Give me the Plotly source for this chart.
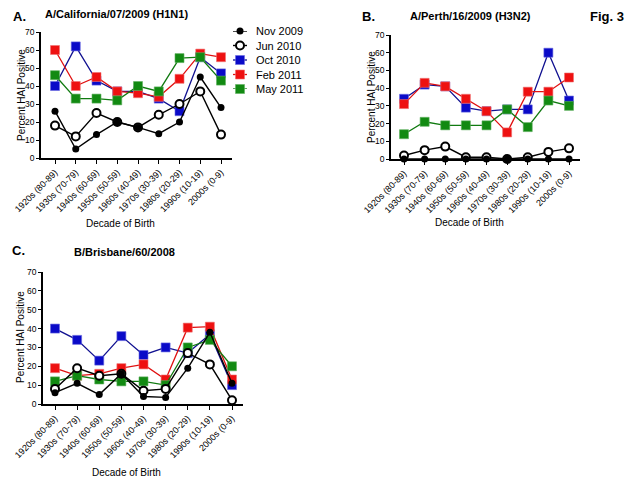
import plotly.graph_objects as go

W, H = 640, 480
OFF = 8  # page body margin offset in the browser

categories = ["1920s (80-89)", "1930s (70-79)", "1940s (60-69)", "1950s (50-59)",
              "1960s (40-49)", "1970s (30-39)", "1980s (20-29)", "1990s (10-19)", "2000s (0-9)"]
series_names = ["Nov 2009", "Jun 2010", "Oct 2010", "Feb 2011", "May 2011"]

# Panel A: A/California/07/2009 (H1N1)
a_nov2009 = [26, 5, 13, 20, 17, 13.5, 20, 45, 28]
a_jun2010 = [18, 12, 25, 20, 17, 24, 30, 37, 13]
a_oct2010 = [40, 62, 43, 37, 37, 33, 26, 56, 47]
a_feb2011 = [60, 40, 45, 37, 36, 34, 44, 58, 56]
a_may2011 = [46, 33, 33, 32, 40, 37, 55.5, 56, 43]

# Panel B: A/Perth/16/2009 (H3N2)
b_nov2009 = [0, 0, 0, 0, 0, 0, 0, 0, 0]
b_jun2010 = [2, 5, 7, 1, 1, 0, 1, 4, 6]
b_oct2010 = [34, 42, 41, 29, 27, 28, 28, 60, 33]
b_feb2011 = [31, 43, 41, 34, 27, 15, 38, 38, 46]
b_may2011 = [14, 21, 19, 19, 19, 28, 18, 33, 30]

# Panel C: B/Brisbane/60/2008
c_nov2009 = [6, 11, 5, 16, 4, 3.5, 19, 38, 11]
c_jun2010 = [8, 19, 15, 16, 7, 8, 27, 21, 2]
c_oct2010 = [40, 34, 23, 36, 26, 30, 27, 37, 10]
c_feb2011 = [19, 15, 16, 19, 21, 13, 40.5, 41, 13]
c_may2011 = [12, 15, 13, 12, 12, 10, 30, 34, 20]

y_ticks = [0, 10, 20, 30, 40, 50, 60, 70]

FONT = "Liberation Sans, Arial, sans-serif"
BLUE, RED, GREEN = "#0a0ac8", "#ee1111", "#128a12"

styles = {
    "Nov 2009": dict(line=dict(color="black", width=1.4),
                     marker=dict(symbol="circle", size=7, color="black")),
    "Jun 2010": dict(line=dict(color="black", width=1.4),
                     marker=dict(symbol="circle", size=8, color="white",
                                 line=dict(color="black", width=2))),
    "Oct 2010": dict(line=dict(color="#101090", width=1.3),
                     marker=dict(symbol="square", size=9, color=BLUE,
                                 line=dict(color="#6a6ae0", width=0.6))),
    "Feb 2011": dict(line=dict(color="#e01010", width=1.3),
                     marker=dict(symbol="square", size=9, color=RED,
                                 line=dict(color="#f07070", width=0.6))),
    "May 2011": dict(line=dict(color="#107a10", width=1.3),
                     marker=dict(symbol="square", size=9, color=GREEN,
                                 line=dict(color="#60b060", width=0.6))),
}

panels = [
    ("x", "y", [a_nov2009, a_jun2010, a_oct2010, a_feb2011, a_may2011]),
    ("x2", "y2", [b_nov2009, b_jun2010, b_oct2010, b_feb2011, b_may2011]),
    ("x3", "y3", [c_nov2009, c_jun2010, c_oct2010, c_feb2011, c_may2011]),
]

fig = go.Figure()
for xa, ya, data in panels:
    order = [2, 3, 4, 1, 0]
    for i in order:
        name = series_names[i]
        fig.add_trace(go.Scatter(
            x=list(range(len(categories))), y=data[i], mode="lines+markers",
            name=name, xaxis=xa, yaxis=ya, showlegend=False,
            cliponaxis=False, **styles[name]))

# manual legend (keys on a hidden axis pair so rows can be tightly spaced)
for k, name in enumerate(series_names):
    fig.add_trace(go.Scatter(x=[0, 1], y=[k, k], mode="lines", xaxis="x4", yaxis="y4",
                             showlegend=False, hoverinfo="skip", line=styles[name]["line"]))
    fig.add_trace(go.Scatter(x=[0.5], y=[k], mode="markers", xaxis="x4", yaxis="y4",
                             showlegend=False, hoverinfo="skip", marker=styles[name]["marker"],
                             cliponaxis=False))


def px_x(p):
    return (p - OFF) / W


def px_y(p):
    return 1 - (p - OFF) / H


# (yaxis_x_px, x_end_px, top_px, bottom_px, first_cat_px, last_cat_px)
geom = [
    (41, 232, 32, 158, 55, 221),
    (391, 580, 35, 159, 404, 569),
    (43, 243, 272, 404, 55, 232),
]

layout_axes = {}
for k, (x0, x1, t, b, c0, c8) in enumerate(geom):
    sfx = "" if k == 0 else str(k + 1)
    step = (c8 - c0) / 8
    lo = -(c0 - x0) / step
    hi = 8 + (x1 - c8) / step
    layout_axes["xaxis" + sfx] = dict(
        domain=[px_x(x0), px_x(x1)], range=[lo, hi], anchor="y" + sfx, automargin=False,
        tickmode="array", tickvals=list(range(9)), ticktext=categories,
        tickangle=-45, ticks="outside", ticklen=4, tickwidth=1.2, tickcolor="black",
        showline=True, linecolor="black", linewidth=1.5, showgrid=False, zeroline=False,
        tickfont=dict(family=FONT, size=9, color="black"),
    )
    layout_axes["yaxis" + sfx] = dict(
        domain=[px_y(b), px_y(t)], range=[0, 70], anchor="x" + sfx, automargin=False,
        tickmode="array", tickvals=y_ticks,
        ticks="outside", ticklen=3, tickwidth=1.2, tickcolor="black",
        showline=True, linecolor="black", linewidth=1.5, showgrid=False, zeroline=False,
        tickfont=dict(family=FONT, size=8.5, color="black"),
    )

# legend axis: keys span x 233..247 px, rows at y 31..89 px
layout_axes["xaxis4"] = dict(domain=[px_x(233), px_x(247)], range=[0, 1], visible=False,
                             anchor="y4", automargin=False, fixedrange=True)
layout_axes["yaxis4"] = dict(domain=[px_y(89), px_y(31)], range=[4, 0], visible=False,
                             anchor="x4", automargin=False, fixedrange=True)

ann = []


def text(x, y, s, size, bold=False, xanchor="left", angle=0):
    ann.append(dict(x=px_x(x), y=px_y(y), xref="paper", yref="paper",
                    text=("<b>%s</b>" % s) if bold else s,
                    showarrow=False, xanchor=xanchor, yanchor="middle", textangle=angle,
                    font=dict(family=FONT, size=size, color="black")))


text(11, 16, "A.", 13, bold=True)
text(43, 14, "A/California/07/2009 (H1N1)", 11, bold=True)
text(360, 16, "B.", 13, bold=True)
text(470, 16, "A/Perth/16/2009 (H3N2)", 11, bold=True, xanchor="center")
text(588, 16, "Fig. 3", 13, bold=True)
text(10, 250, "C.", 13, bold=True)
text(124, 252, "B/Brisbane/60/2008", 11, bold=True, xanchor="center")

text(21, 95, "Percent HAI Positive", 10, xanchor="center", angle=-90)
text(371, 97, "Percent HAI Positive", 10, xanchor="center", angle=-90)
text(20, 337, "Percent HAI Positive", 10, xanchor="center", angle=-90)

text(120, 224, "Decade of Birth", 10, xanchor="center")
text(469, 222, "Decade of Birth", 10, xanchor="center")
text(126, 472, "Decade of Birth", 10, xanchor="center")

# legend labels
for k, name in enumerate(series_names):
    text(254, 31 + k * 14.5, name, 11)

fig.update_layout(
    width=W, height=H, margin=dict(l=0, r=0, t=0, b=0),
    paper_bgcolor="white", plot_bgcolor="rgba(0,0,0,0)",
    font=dict(family=FONT, color="black"),
    annotations=ann, showlegend=False,
    **layout_axes,
)

fig.write_html("out.html")
